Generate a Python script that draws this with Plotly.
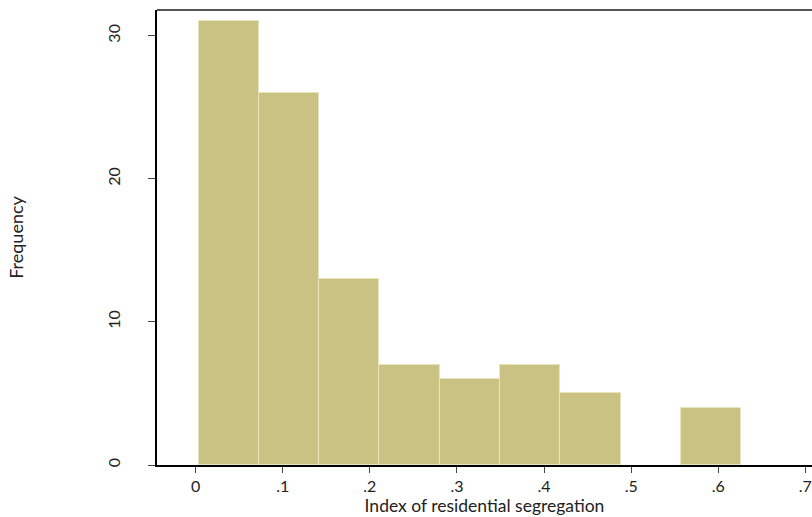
import plotly.graph_objects as go

# Data
bin_start = 0.0034
bin_width = 0.0692
counts = [31, 26, 13, 7, 6, 7, 5, 0, 4]
x_tickvals = [0, 0.1, 0.2, 0.3, 0.4, 0.5, 0.6, 0.7]
x_ticktext = ["0", ".1", ".2", ".3", ".4", ".5", ".6", ".7"]
y_tickvals = [0, 10, 20, 30]

centers = [bin_start + bin_width * (i + 0.5) for i in range(len(counts))]
line_w = [1 if c > 0 else 0 for c in counts]

FONT = "Lato, 'Open Sans', sans-serif"

fig = go.Figure()
fig.add_trace(go.Bar(
    x=centers, y=counts, width=[bin_width] * len(counts),
    marker=dict(color="#C9C282", line=dict(color="#E8E4BC", width=line_w)),
    hoverinfo="skip",
))

fig.update_layout(
    width=812, height=517,
    margin=dict(l=157, r=0, t=10, b=52),
    paper_bgcolor="white", plot_bgcolor="white",
    showlegend=False,
    bargap=0,
    font=dict(family=FONT, size=16, color="#222"),
    xaxis=dict(
        range=[-0.0444, 0.7076],
        tickvals=x_tickvals, ticktext=x_ticktext,
        showgrid=False, zeroline=False,
        showline=True, linecolor="black", linewidth=1.5,
        ticks="outside", ticklen=6, tickcolor="#444", tickwidth=1,
        ticklabelstandoff=0,
        title=dict(text="Index of residential segregation", font=dict(size=17.5), standoff=2),
    ),
    yaxis=dict(
        range=[0, 31.8],
        tickvals=y_tickvals,
        showgrid=False, zeroline=False,
        showline=True, linecolor="black", linewidth=1.5,
        ticks="outside", ticklen=7, tickcolor="#444", tickwidth=1,
        tickangle=-90,
        ticklabelstandoff=22,
        title=dict(text="Frequency", font=dict(size=18), standoff=76),
    ),
)

fig.add_shape(type="line", xref="paper", yref="paper", x0=0, x1=1, y0=1, y1=1,
              line=dict(color="#555", width=2))

fig.write_html("out.html")
